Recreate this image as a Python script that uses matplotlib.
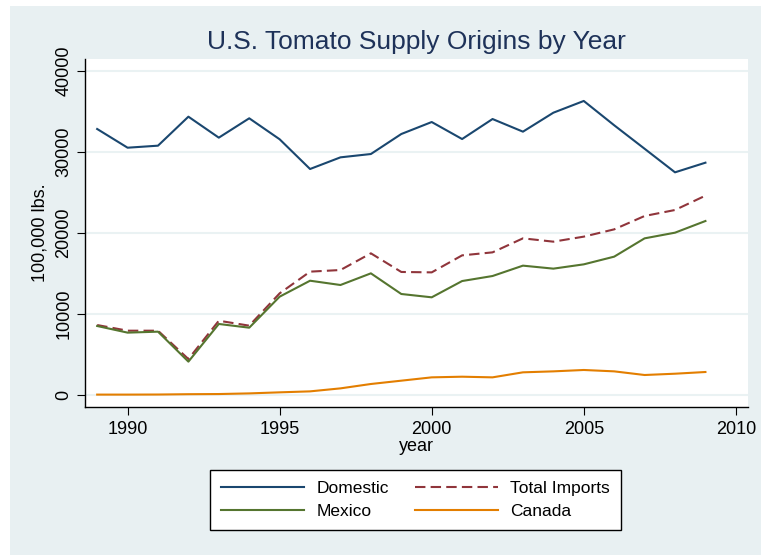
import matplotlib
matplotlib.use("Agg")
import matplotlib.pyplot as plt
from matplotlib.patches import Rectangle

# datos (100,000 lbs.)
years = list(range(1989, 2010))
domestic = [32840, 30530, 30780, 34360, 31770, 34160, 31570, 27900, 29340, 29750,
            32220, 33700, 31600, 34070, 32510, 34850, 36300, 33300, 30400, 27490, 28680]
total_imports = [8640, 7940, 7940, 4440, 9170, 8560, 12550, 15230, 15430, 17490,
                 15190, 15140, 17240, 17610, 19340, 18930, 19550, 20450, 22100, 22840, 24610]
mexico = [8520, 7700, 7820, 4120, 8770, 8310, 12140, 14110, 13580, 15020,
          12470, 12060, 14070, 14690, 15970, 15600, 16130, 17080, 19340, 20040, 21480]
canada = [50, 50, 60, 100, 120, 200, 330, 450, 820, 1360,
          1770, 2180, 2260, 2180, 2800, 2920, 3090, 2920, 2470, 2630, 2840]

x_ticks = [1990, 1995, 2000, 2005, 2010]
y_ticks = [0, 10000, 20000, 30000, 40000]

plt.rcParams['font.family'] = ['Liberation Sans', 'DejaVu Sans']

fondo = '#e8f0f2'
fig = plt.figure(figsize=(7.61, 5.55), dpi=100, facecolor='white')
fig.patches.append(Rectangle((10 / 761, 0), 1 - 10 / 761, 1 - 6 / 555,
                             transform=fig.transFigure, facecolor=fondo,
                             edgecolor='none', zorder=-10))

ax = fig.add_axes([85 / 761, 1 - 407 / 555, (748 - 85) / 761, (407 - 59) / 555])
ax.set_facecolor('white')

l_dom, = ax.plot(years, domestic, color='#1a476f', lw=1.5, label='Domestic')
l_imp, = ax.plot(years, total_imports, color='#90353b', lw=1.5, ls=(0, (5, 2.5)), label='Total Imports')
l_mex, = ax.plot(years, mexico, color='#55752f', lw=1.5, label='Mexico')
l_can, = ax.plot(years, canada, color='#e37e00', lw=1.5, label='Canada')

ax.set_xlim(1988.6, 2010.4)
ax.set_ylim(-1480, 41480)
ax.set_xticks(x_ticks)
ax.set_yticks(y_ticks)
ax.set_yticklabels([str(v) for v in y_ticks], rotation=90, va='center')
ax.tick_params(axis='both', labelsize=13, length=6, width=0.8, direction='out', pad=4)
ax.tick_params(axis='y', pad=3)
ax.grid(axis='y', color='#eaf2f3', lw=1.5)
ax.set_axisbelow(True)

for lado in ['top', 'right']:
    ax.spines[lado].set_visible(False)
for lado in ['left', 'bottom']:
    ax.spines[lado].set_linewidth(1.0)

ax.set_xlabel('year', fontsize=13, labelpad=0)
ax.set_ylabel('100,000 lbs.', fontsize=13, labelpad=5)
ax.set_title('U.S. Tomato Supply Origins by Year', fontsize=19, color='#1e3259', pad=7)

# orden por columnas para que la primera fila sea Domestic / Total Imports
leg = ax.legend([l_dom, l_mex, l_imp, l_can],
                ['Domestic', 'Mexico', 'Total Imports', 'Canada'],
                loc='center', bbox_to_anchor=(415.5 / 761, 1 - 500 / 555),
                bbox_transform=fig.transFigure, ncol=2, fontsize=12.5,
                frameon=True, fancybox=False, handlelength=4.8, columnspacing=1.5,
                handletextpad=0.7, borderpad=0.6, labelspacing=0.5)
leg.get_frame().set_edgecolor('black')
leg.get_frame().set_linewidth(1.0)
leg.get_frame().set_facecolor('white')
leg.get_frame().set_alpha(1)

fig.savefig('out.png', dpi=100, facecolor=fig.get_facecolor())
